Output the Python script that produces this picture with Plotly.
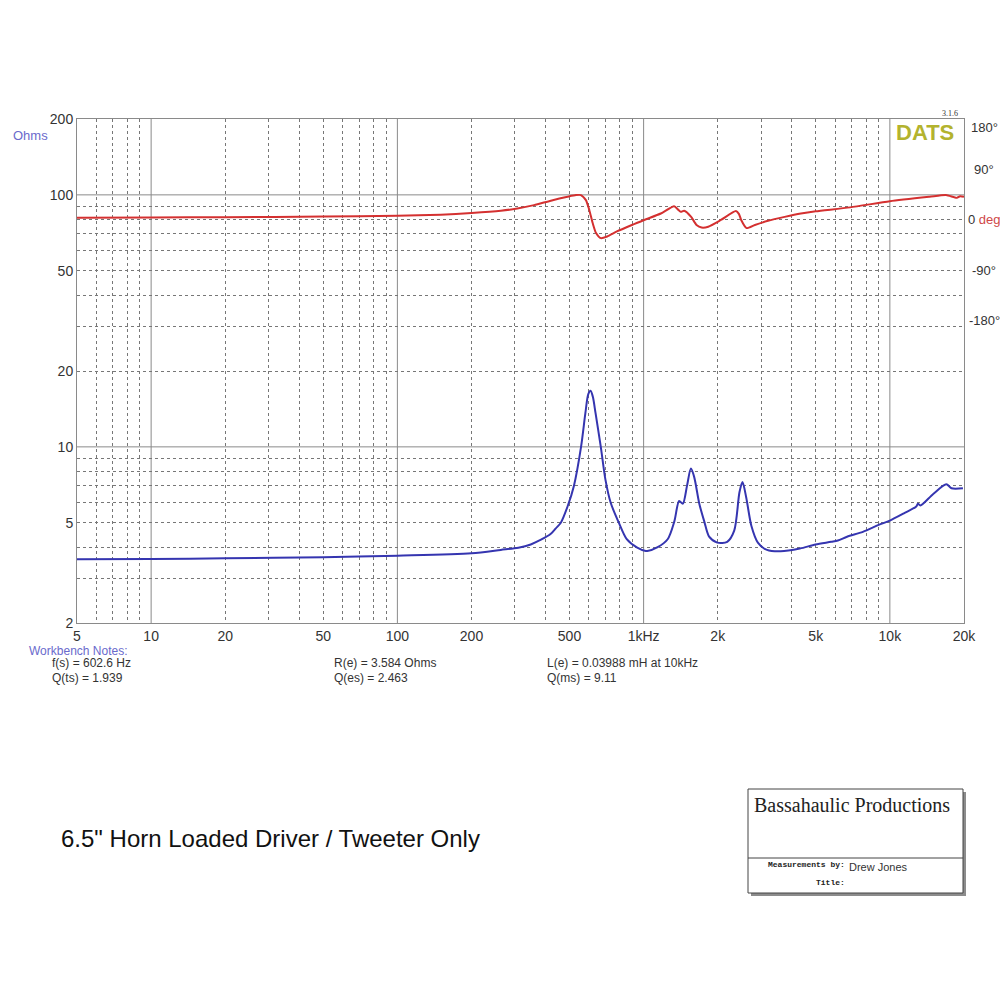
import plotly.graph_objects as go

# ---------------- data ----------------
imp_freq = [5, 10, 20, 50, 100, 200, 263, 310, 348, 383, 420, 440, 461, 491, 521, 557, 580, 596, 609,
            622, 638, 670, 700, 735, 793, 854, 942, 1020, 1035, 1140, 1252, 1332, 1394, 1443, 1500, 1556,
            1604, 1683, 1764, 1845, 1990, 2185, 2333, 2450, 2520, 2610, 2740, 2910, 3170, 3600, 4310,
            4990, 5780, 6150, 6700, 7770, 9000, 10000, 11400, 12800, 13000, 13300, 15000, 16950, 17800, 19800]
imp_ohms = [3.58, 3.59, 3.61, 3.65, 3.70, 3.78, 3.90, 3.98, 4.10, 4.28, 4.52, 4.75, 5.0, 5.8, 7.0, 10.0, 13.6, 16.2, 16.7,
            15.8, 13.6, 10.0, 7.4, 6.0, 5.0, 4.3, 3.98, 3.86, 3.86, 4.0, 4.3, 5.05, 6.1, 5.95, 7.0, 8.2,
            7.6, 5.95, 5.05, 4.4, 4.17, 4.2, 4.65, 6.6, 7.25, 6.3, 4.85, 4.17, 3.9, 3.85, 3.95,
            4.1, 4.2, 4.25, 4.4, 4.6, 4.9, 5.1, 5.45, 5.8, 5.95, 5.85, 6.5, 7.1, 6.85, 6.85]

ph_freq = [5, 10, 20, 50, 100, 150, 200, 263, 307, 359, 420, 491, 531, 556, 583, 602, 621, 641, 670,
           711, 779, 914, 1005, 1175, 1330, 1380, 1415, 1460, 1560, 1640, 1720, 1830, 2060, 2370, 2440,
           2490, 2620, 2830, 3200, 3740, 4350, 5000, 6900, 10000, 14500, 16900, 18700, 19300, 20000]
ph_deg = [3.5, 4, 4.5, 5.5, 7, 9, 12, 16, 20, 26, 34, 41, 44, 44, 35, 17, -6, -24, -33,
          -30, -21, -8, -0.5, 11, 24, 18, 14, 16, 5, -9.5, -14, -12.5, -0.5, 15.5, 10,
          -0.5, -15, -9.5, -2, 5, 11, 15, 22, 33, 41, 44, 39, 42, 41]

x_tickvals = [5, 10, 20, 50, 100, 200, 500, 1000, 2000, 5000, 10000, 20000]
x_ticktext = ["5", "10", "20", "50", "100", "200", "500", "1kHz", "2k", "5k", "10k", "20k"]
x_decades = [10, 100, 1000, 10000]
x_minor = [6, 7, 8, 9, 20, 30, 40, 50, 60, 70, 80, 90, 200, 300, 400, 500, 600, 700, 800, 900,
           2000, 3000, 4000, 5000, 6000, 7000, 8000, 9000]

y_tickvals = [2, 5, 10, 20, 50, 100, 200]
y_ticktext = ["2", "5", "10", "20", "50", "100", "200"]
y_decades = [10, 100]
y_minor = [3, 4, 5, 6, 7, 8, 9, 20, 30, 40, 50, 60, 70, 80, 90]

ph_tickvals = [-180, -90, 0, 90, 180]
ph_ticktext = ["-180°", "-90°", "0 <span style='color:#d04848'>deg</span>", "90°", "180°"]

notes_left = ["f(s) = 602.6 Hz", "Q(ts) = 1.939"]
notes_mid = ["R(e) = 3.584 Ohms", "Q(es) = 2.463"]
notes_right = ["L(e) = 0.03988 mH at 10kHz", "Q(ms) = 9.11"]

# ---------------- layout helpers ----------------
L, R, T, B = 77, 964, 119, 623
W, H = R - L, B - T


def px(x, y):
    return (x - L) / W, (B - y) / H


FONT = "Liberation Sans, Arial, sans-serif"
GRID = "#8a8a8a"

fig = go.Figure()
fig.add_trace(go.Scatter(x=imp_freq, y=imp_ohms, mode="lines",
                         line=dict(color="#3535b0", width=2, shape="spline", smoothing=0.8),
                         showlegend=False, hoverinfo="skip"))
fig.add_trace(go.Scatter(x=ph_freq, y=ph_deg, mode="lines", yaxis="y2",
                         line=dict(color="#d43030", width=2, shape="spline", smoothing=0.6),
                         showlegend=False, hoverinfo="skip"))

shapes = []
for v in x_decades:
    shapes.append(dict(type="line", xref="x", yref="paper", x0=v, x1=v, y0=0, y1=1,
                       line=dict(color=GRID, width=1), layer="below"))
for v in y_decades:
    shapes.append(dict(type="line", xref="paper", yref="y", x0=0, x1=1, y0=v, y1=v,
                       line=dict(color=GRID, width=1), layer="below"))

# info box with shadow
bx0, by0, bx1, by1 = 748, 789, 963, 893
a0, b0 = px(bx0 + 3, by0 + 3)
a1, b1 = px(bx1 + 3, by1 + 3)
shapes.append(dict(type="rect", xref="paper", yref="paper", x0=a0, y0=b0, x1=a1, y1=b1,
                   fillcolor="#8c8c8c", line=dict(width=0)))
a0, b0 = px(bx0, by0)
a1, b1 = px(bx1, by1)
shapes.append(dict(type="rect", xref="paper", yref="paper", x0=a0, y0=b0, x1=a1, y1=b1,
                   fillcolor="white", line=dict(color="#444", width=1)))
a0, b0 = px(bx0, 858)
a1, _ = px(bx1, 858)
shapes.append(dict(type="line", xref="paper", yref="paper", x0=a0, y0=b0, x1=a1, y1=b0,
                   line=dict(color="#444", width=1)))

ann = []


def text(x, y, s, size, color="#333", family=FONT, anchor="left", bold=False):
    ax, ay = px(x, y)
    if bold:
        s = "<b>" + s + "</b>"
    ann.append(dict(x=ax, y=ay, xref="paper", yref="paper", text=s, showarrow=False,
                    xanchor=anchor, yanchor="middle", borderpad=0,
                    font=dict(size=size, color=color, family=family)))


text(12, 135, "Ohms", 13, color="#6a6acc")
text(895, 132, "DATS", 22, color="#b3b32e", bold=True)
text(959, 113, "3.1.6", 8, color="#333", family="Liberation Serif, serif", anchor="right")
text(28, 651, "Workbench Notes:", 12, color="#6a6acc")
for i, s in enumerate(notes_left):
    text(51, 663 + 15 * i, s, 12)
for i, s in enumerate(notes_mid):
    text(333, 663 + 15 * i, s, 12)
for i, s in enumerate(notes_right):
    text(546, 663 + 15 * i, s, 12)
text(60, 838, "6.5\" Horn Loaded Driver / Tweeter Only", 24, color="#111")
text(753, 805, "Bassahaulic Productions", 20, color="#222", family="Liberation Serif, Times New Roman, serif")
text(846, 864, "Measurements by:", 8, color="#222", family="Liberation Mono, Courier New, monospace",
     anchor="right", bold=True)
text(848, 867, "Drew Jones", 11, color="#333")
text(846, 882, "Title:", 8, color="#222", family="Liberation Mono, Courier New, monospace",
     anchor="right", bold=True)

# phase scale labels on the right, placed on the phase axis values
lab_x, _ = px(984, 0)
for v, s in zip(ph_tickvals, ph_ticktext):
    ann.append(dict(x=lab_x, y=v, xref="paper", yref="y2", text=s, showarrow=False,
                    xanchor="center", yanchor="middle" if v < 180 else "top", borderpad=0,
                    font=dict(size=13, color="#333", family=FONT)))

fig.update_layout(
    width=1000, height=1000,
    margin=dict(l=L, r=1000 - R, t=T, b=1000 - B, pad=0, autoexpand=False),
    paper_bgcolor="white", plot_bgcolor="white",
    font=dict(family=FONT, size=14, color="#333"),
    xaxis=dict(type="log", range=[0.69897, 4.30103], tickvals=x_tickvals, ticktext=x_ticktext,
               showgrid=False, ticks="outside", ticklen=0, zeroline=False, automargin=False,
               showline=True, mirror=True, linecolor=GRID, linewidth=1,
               tickfont=dict(size=14, color="#333"),
               minor=dict(tickvals=x_minor, ticks="inside", ticklen=0, showgrid=True,
                          gridcolor="#777", griddash="3px,3px", gridwidth=1)),
    yaxis=dict(type="log", range=[0.30103, 2.30103], tickvals=y_tickvals, ticktext=y_ticktext,
               showgrid=False, ticks="outside", ticklen=0, zeroline=False, automargin=False,
               showline=True, mirror=True, linecolor=GRID, linewidth=1,
               tickfont=dict(size=14, color="#333"),
               minor=dict(tickvals=y_minor, ticks="inside", ticklen=0, showgrid=True,
                          gridcolor="#777", griddash="3px,3px", gridwidth=1)),
    yaxis2=dict(overlaying="y", side="right", range=[-721, 180], showgrid=False,
                zeroline=False, showline=False, automargin=False, showticklabels=False,
                ticks=""),
    shapes=shapes, annotations=ann,
)

fig.write_html("out.html")
